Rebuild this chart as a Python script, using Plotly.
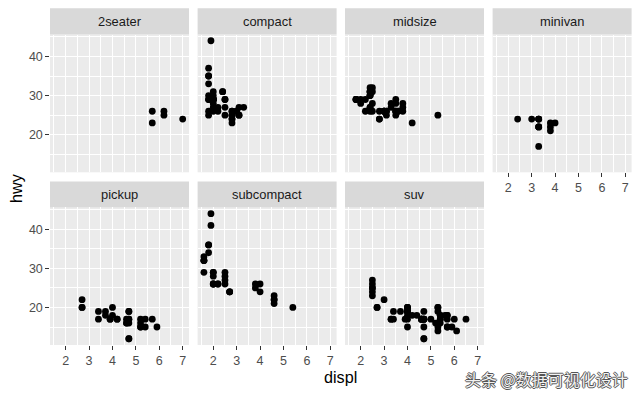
import plotly.graph_objects as go

# ---------------- data (mpg: displ vs hwy, by class) ----------------
classes = ["2seater", "compact", "midsize", "minivan", "pickup", "subcompact", "suv"]

displ_2seater = [5.7, 5.7, 6.2, 6.2, 7.0]
hwy_2seater = [26, 23, 26, 25, 24]

displ_compact = [1.8, 1.8, 2.0, 2.0, 2.8, 2.8, 3.1,
                 1.8, 1.8, 2.0, 2.0, 2.8, 2.8, 3.1, 3.1,
                 2.2, 2.2, 2.4, 2.4, 3.0, 3.0, 3.3,
                 1.8, 1.8, 1.8, 1.8, 1.8,
                 2.0, 2.0, 2.0, 2.0, 2.8,
                 1.9, 2.0, 2.0, 2.0, 2.0, 2.5, 2.5, 2.8, 2.8,
                 2.5, 2.5]
hwy_compact = [29, 29, 31, 30, 26, 26, 27,
               26, 25, 28, 27, 25, 25, 25, 25,
               26, 27, 31, 31, 26, 26, 27,
               30, 33, 35, 37, 35,
               29, 29, 29, 29, 24,
               44, 29, 26, 29, 29, 29, 29, 23, 24,
               27, 25]

displ_midsize = [2.8, 3.1, 4.2,
                 2.4, 2.4, 3.1, 3.5, 3.6,
                 2.4, 2.4, 2.4, 2.4, 2.5, 2.5, 3.3,
                 2.4, 2.4, 2.5, 2.5, 3.3, 3.5, 3.5, 3.5,
                 3.0, 3.0, 3.5,
                 3.1, 3.8, 3.8, 3.8, 5.3,
                 2.2, 2.2, 2.4, 2.4, 3.0, 3.0, 3.5,
                 1.8, 1.8, 1.8, 2.0, 2.0, 2.8, 2.8, 3.6]
hwy_midsize = [24, 25, 23,
               27, 30, 26, 29, 26,
               26, 27, 31, 30, 26, 28, 28,
               30, 32, 32, 31, 27, 26, 26, 25,
               26, 26, 26,
               26, 27, 26, 28, 25,
               26, 29, 31, 31, 26, 26, 28,
               29, 29, 29, 28, 29, 24, 26, 26]

displ_minivan = [2.4, 3.0, 3.3, 3.3, 3.3, 3.3, 3.3, 3.3, 3.3, 3.8, 3.8, 3.8, 4.0]
hwy_minivan = [24, 24, 22, 22, 24, 24, 24, 22, 17, 22, 21, 23, 23]

displ_pickup = [2.7, 2.7, 2.7, 3.4, 3.4, 4.0, 4.0,
                3.7, 3.7, 3.9, 3.9, 4.7, 4.7, 4.7, 5.2, 5.2,
                4.7, 4.7, 4.7, 4.7, 5.2, 5.2, 5.7, 5.9,
                4.2, 4.2, 4.6, 4.6, 4.6, 5.4, 5.4]
hwy_pickup = [20, 22, 20, 17, 19, 18, 20,
              19, 18, 17, 17, 19, 19, 12, 17, 15,
              17, 12, 17, 16, 15, 16, 17, 15,
              17, 17, 16, 16, 17, 15, 17]

displ_subcompact = [3.8, 3.8, 4.0, 4.0, 4.6, 4.6, 4.6, 4.6, 5.4,
                    1.6, 1.6, 1.6, 1.6, 1.6, 1.8, 1.8, 1.8, 2.0,
                    2.0, 2.0, 2.0, 2.7, 2.7, 2.7,
                    2.2, 2.2, 2.5, 2.5,
                    1.9, 1.9, 2.0, 2.0, 2.5, 2.5]
hwy_subcompact = [26, 25, 26, 24, 21, 22, 23, 22, 20,
                  33, 32, 32, 29, 32, 34, 36, 36, 29,
                  26, 28, 26, 24, 24, 24,
                  26, 26, 26, 27,
                  44, 41, 29, 26, 28, 29]

displ_suv = [5.3, 5.3, 5.3, 5.7, 6.0,
             5.3, 5.3, 5.7, 6.5,
             3.9, 4.7, 4.7, 4.7, 5.2, 5.7, 5.9,
             4.6, 5.4, 5.4,
             4.0, 4.0, 4.0, 4.0, 4.6, 5.0,
             3.0, 3.7, 4.0, 4.7, 4.7, 4.7, 5.7, 6.1,
             4.0, 4.2, 4.4, 4.6,
             5.4, 5.4, 5.4,
             4.0, 4.0, 4.6, 4.6,
             3.3, 3.3, 4.0, 5.6,
             2.5, 2.5, 2.5, 2.5, 2.5, 2.5,
             2.7, 2.7, 3.4, 3.4, 4.0, 4.7,
             4.7, 5.7]
hwy_suv = [20, 15, 20, 17, 17,
           19, 14, 15, 17,
           17, 17, 12, 17, 16, 18, 15,
           17, 17, 18,
           19, 17, 19, 19, 17, 17,
           22, 19, 20, 17, 19, 12, 18, 14,
           15, 18, 18, 17,
           17, 16, 18,
           19, 18, 17, 17,
           17, 17, 20, 18,
           25, 24, 27, 25, 26, 23,
           20, 20, 17, 19, 20, 17,
           15, 15]

series = {
    "2seater": (displ_2seater, hwy_2seater),
    "compact": (displ_compact, hwy_compact),
    "midsize": (displ_midsize, hwy_midsize),
    "minivan": (displ_minivan, hwy_minivan),
    "pickup": (displ_pickup, hwy_pickup),
    "subcompact": (displ_subcompact, hwy_subcompact),
    "suv": (displ_suv, hwy_suv),
}

x_ticks = [2, 3, 4, 5, 6, 7]
y_ticks = [20, 30, 40]
x_range = [1.33, 7.27]
y_range = [10.4, 45.6]

# ---------------- layout geometry (window pixels) ----------------
WIN_W, WIN_H = 640, 395
OFF = 8  # default page body margin: the figure div starts at (8, 8)
W, H = WIN_W - OFF, WIN_H - OFF
FONT = "Liberation Sans, Arial, sans-serif"
col_left = [50.0, 197.6, 345.0, 492.6]
panel_w = 139.0
row_panel = [(34.5, 172.3), (207.4, 345.0)]
row_strip = [(8.3, 34.5), (181.6, 207.4)]
TICK_SIZE = 12.5
STRIP_SIZE = 12.9
TITLE_SIZE = 16.2


def fx(px):
    return (px - OFF) / W


def fy(py):
    return 1 - (py - OFF) / H


fig = go.Figure()
layout = dict(
    width=W, height=H,
    margin=dict(l=0, r=0, t=0, b=0, autoexpand=False),
    paper_bgcolor="white",
    plot_bgcolor="#EBEBEB",
    showlegend=False,
    font=dict(family=FONT, size=12, color="#4D4D4D"),
    shapes=[], annotations=[],
)

for i, cls in enumerate(classes):
    r, c = divmod(i, 4)
    n = i + 1
    xa = "x" if n == 1 else f"x{n}"
    ya = "y" if n == 1 else f"y{n}"
    xk = "xaxis" if n == 1 else f"xaxis{n}"
    yk = "yaxis" if n == 1 else f"yaxis{n}"
    x0 = col_left[c]
    x1 = x0 + panel_w
    py0, py1 = row_panel[r]
    show_x = (r == 1) or (cls == "minivan")
    show_y = (c == 0)

    dx, hy = series[cls]
    fig.add_trace(go.Scatter(
        x=dx, y=hy, mode="markers", xaxis=xa, yaxis=ya,
        marker=dict(color="black", size=6.8, line=dict(width=0)),
        hoverinfo="x+y",
    ))

    layout[xk] = dict(
        domain=[fx(x0), fx(x1)], anchor=ya, range=x_range, automargin=False,
        tickvals=x_ticks, ticktext=[str(t) for t in x_ticks],
        showticklabels=show_x, ticks="outside" if show_x else "",
        ticklen=3.7, tickwidth=1.07, tickcolor="#333333",
        tickfont=dict(family=FONT, size=TICK_SIZE, color="#4D4D4D"),
        showgrid=True, gridcolor="white", gridwidth=1.07,
        minor=dict(dtick=0.5, tick0=1.5, showgrid=True, gridcolor="white", gridwidth=0.53),
        zeroline=False, showline=False, fixedrange=True,
    )
    layout[yk] = dict(
        domain=[fy(py1), fy(py0)], anchor=xa, range=y_range, automargin=False,
        tickvals=y_ticks, ticktext=[str(t) for t in y_ticks],
        showticklabels=show_y, ticks="outside" if show_y else "",
        ticklen=3.7, tickwidth=1.07, tickcolor="#333333",
        tickfont=dict(family=FONT, size=TICK_SIZE, color="#4D4D4D"),
        showgrid=True, gridcolor="white", gridwidth=1.07,
        minor=dict(dtick=5, tick0=15, showgrid=True, gridcolor="white", gridwidth=0.53),
        zeroline=False, showline=False, fixedrange=True,
    )

    sy0, sy1 = row_strip[r]
    layout["shapes"].append(dict(
        type="rect", xref="paper", yref="paper",
        x0=fx(x0), x1=fx(x1), y0=fy(sy1), y1=fy(sy0),
        fillcolor="#D9D9D9", line=dict(width=0), layer="below",
    ))
    layout["annotations"].append(dict(
        text=cls, xref="paper", yref="paper",
        x=fx((x0 + x1) / 2), y=fy((sy0 + sy1) / 2),
        xanchor="center", yanchor="middle", showarrow=False,
        font=dict(family=FONT, size=STRIP_SIZE, color="#1A1A1A"),
    ))

# axis titles
layout["annotations"].append(dict(
    text="displ", xref="paper", yref="paper", x=fx(340.5), y=fy(377),
    xanchor="center", yanchor="middle", showarrow=False,
    font=dict(family=FONT, size=TITLE_SIZE, color="black"),
))
layout["annotations"].append(dict(
    text="hwy", xref="paper", yref="paper", x=fx(16), y=fy(188),
    xanchor="center", yanchor="middle", showarrow=False, textangle=-90,
    font=dict(family=FONT, size=TITLE_SIZE, color="black"),
))
# watermark
layout["annotations"].append(dict(
    text="头条 @数据可视化设计", xref="paper", yref="paper", x=fx(630), y=fy(378.5),
    xanchor="right", yanchor="middle", showarrow=False,
    font=dict(family="Noto Sans CJK SC", size=16, color="#F2F2F2",
              shadow="-1px 0 #555, 1px 0 #555, 0 -1px #555, 0 1px #555"),
))

fig.update_layout(**layout)
fig.write_html("out.html")
